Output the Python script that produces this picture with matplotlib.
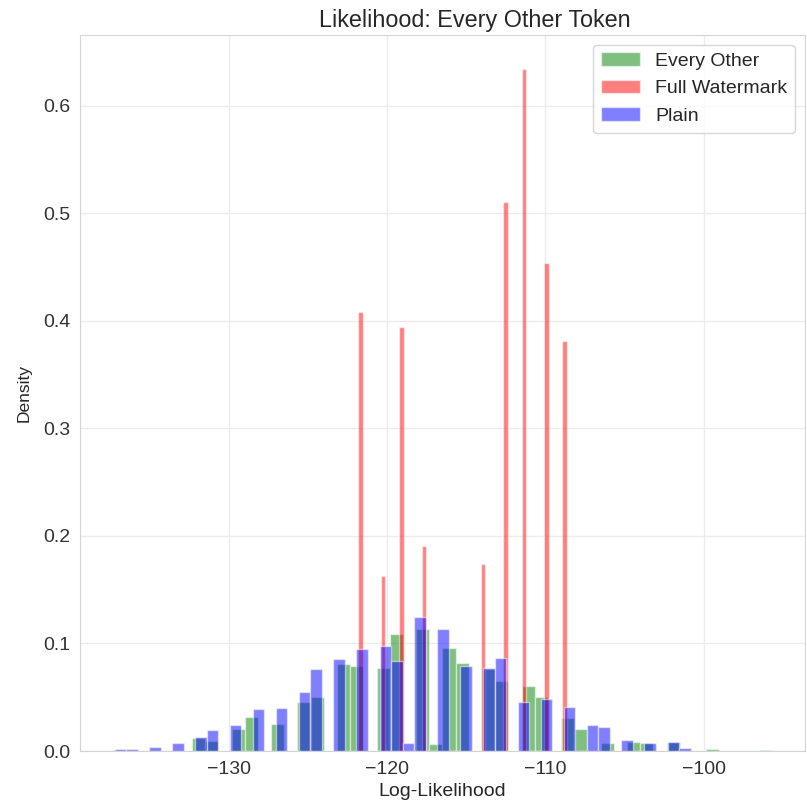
import numpy as np
import matplotlib.pyplot as plt
import seaborn as sns

sns.set_style('whitegrid')
plt.rcParams['font.family'] = ['Liberation Sans', 'DejaVu Sans']

# histogram densities, one value per bin (bins start at *_lo, width *_w)
every_other_lo = -137.33
every_other_w = 0.833
every_other = [0.001, 0, 0, 0, 0, 0, 0.0124, 0.0095, 0, 0.0205,
               0.032, 0, 0.0248, 0, 0.046, 0.050, 0, 0.081, 0.079, 0,
               0.0775, 0.109, 0, 0.113, 0.0068, 0.096, 0.082, 0, 0.076, 0.065,
               0, 0.0605, 0.050, 0, 0.031, 0.020, 0, 0.007, 0, 0.0087,
               0.007, 0, 0.008, 0, 0, 0.0015, 0, 0, 0, 0.0012]

full_lo = -121.833
full_w = 0.2867
full = [0] * 46
for i, h in zip([0, 5, 9, 14, 27, 32, 36, 41, 45],
                [0.408, 0.163, 0.394, 0.191, 0.174, 0.510, 0.634, 0.454, 0.381]):
    full[i] = h

plain_lo = -137.228
plain_w = 0.728
plain = [0.002, 0.002, 0, 0.004, 0, 0.0071, 0, 0.0133, 0.0192, 0,
         0.0245, 0, 0.039, 0, 0.040, 0, 0.055, 0.076, 0, 0.086,
         0, 0.0952, 0, 0.098, 0.084, 0.0077, 0.1247, 0, 0.113, 0,
         0.079, 0, 0.0775, 0.0868, 0, 0.0456, 0, 0.048, 0, 0.041,
         0, 0.0242, 0.0224, 0, 0.0099, 0, 0.0071, 0, 0.008, 0.0025]

fig = plt.figure(figsize=(8.07, 8.09), dpi=100)
ax = fig.add_axes([80 / 807, 1 - 751 / 809, 725 / 807, 716 / 809])


def draw(lo, w, dens, color, label):
    edges = lo + w * np.arange(len(dens) + 1)
    mids = (edges[:-1] + edges[1:]) / 2
    ax.hist(mids, bins=edges, weights=dens, color=color, alpha=0.5, label=label)


draw(every_other_lo, every_other_w, every_other, 'g', 'Every Other')
draw(full_lo, full_w, full, 'r', 'Full Watermark')
draw(plain_lo, plain_w, plain, 'b', 'Plain')

ax.grid(color='#ececec', linewidth=1.0)
for s in ax.spines.values():
    s.set_color('#d4d4d4')

ax.set_title('Likelihood: Every Other Token', fontsize=16.8, x=0.545)
ax.set_xlabel('Log-Likelihood', fontsize=14)
ax.set_ylabel('Density', fontsize=12.5, labelpad=8)
ax.tick_params(labelsize=14, labelcolor='#333333')
ax.legend(loc='upper right', fontsize=14)

plt.savefig('out.png', dpi=100)
